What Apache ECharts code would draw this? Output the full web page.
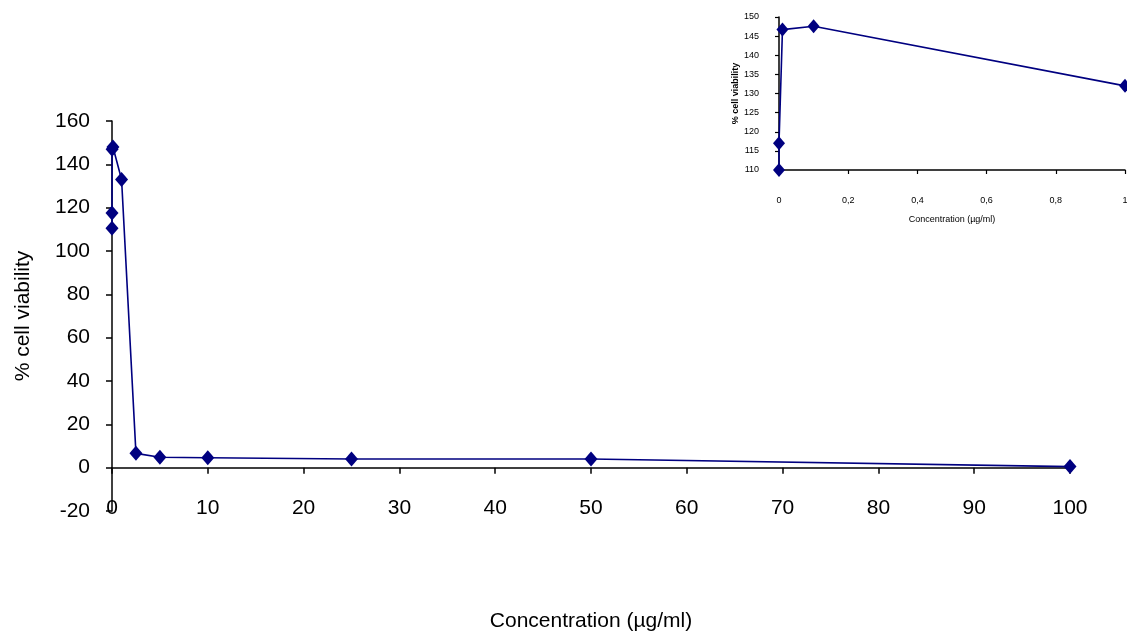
<!DOCTYPE html>
<html>
<head>
<meta charset="utf-8">
<script src="https://cdn.jsdelivr.net/npm/echarts@6/dist/echarts.min.js"></script>
<style>
html,body{margin:0;padding:0;background:#fff;}
#chart{width:1127px;height:631px;}
</style>
</head>
<body>
<div id="chart"></div>
<script>
// Main chart data
const concMain = [0, 0, 0.01, 0.1, 1, 2.5, 5, 10, 25, 50, 100];
const viabMain = [110.5, 117.5, 147, 148, 133, 6.6, 4.8, 4.6, 4, 4, 0.5];
// Inset data (zoom 0-1 µg/ml)
const concInset = [0, 0, 0.01, 0.1, 1];
const viabInset = [110, 117, 146.7, 147.6, 132];
// Axis texts
const xName = 'Concentration (µg/ml)';
const yName = '% cell viability';

const FONT = "'Liberation Sans', Arial, sans-serif";
const NAVY = '#000080';

const chart = echarts.init(document.getElementById('chart'), null, {renderer: 'canvas'});
chart.setOption({
  backgroundColor: '#ffffff',
  animation: false,
  grid: [
    {left: 112, right: 57, top: 121, bottom: 120, containLabel: false, outerBoundsMode: 'none'},
    {left: 779, right: 2, top: 17, bottom: 461, containLabel: false, outerBoundsMode: 'none'}
  ],
  xAxis: [
    {
      gridIndex: 0, type: 'value', min: 0, max: 100, interval: 10,
      axisLine: {onZero: true, lineStyle: {color: '#000', width: 1.5}},
      axisTick: {show: true, inside: false, length: 6, lineStyle: {color: '#000', width: 1.5}},
      axisLabel: {margin: -13, color: '#000', fontSize: 21, fontFamily: FONT},
      splitLine: {show: false},
      name: xName, nameLocation: 'middle', nameGap: 100,
      nameTextStyle: {color: '#000', fontSize: 21, fontFamily: FONT}
    },
    {
      gridIndex: 1, type: 'value', min: 0, max: 1, interval: 0.2,
      axisLine: {onZero: false, lineStyle: {color: '#000', width: 1.5}},
      axisTick: {show: true, length: 4, lineStyle: {color: '#000', width: 1.2}},
      axisLabel: {margin: 26, color: '#000', fontSize: 9, fontFamily: FONT,
        formatter: v => String(Math.round(v * 10) / 10).replace('.', ',')},
      splitLine: {show: false},
      name: xName, nameLocation: 'middle', nameGap: 45,
      nameTextStyle: {color: '#000', fontSize: 9, fontFamily: FONT}
    }
  ],
  yAxis: [
    {
      gridIndex: 0, type: 'value', min: -20, max: 160, interval: 20,
      axisLine: {show: true, onZero: false, lineStyle: {color: '#000', width: 1.5}},
      axisTick: {show: true, length: 6, lineStyle: {color: '#000', width: 1.5}},
      axisLabel: {margin: 22, color: '#000', fontSize: 21, fontFamily: FONT},
      splitLine: {show: false},
      name: yName, nameLocation: 'middle', nameGap: 78,
      nameTextStyle: {color: '#000', fontSize: 21, fontFamily: FONT}
    },
    {
      gridIndex: 1, type: 'value', min: 110, max: 150, interval: 5,
      axisLine: {show: true, onZero: false, lineStyle: {color: '#000', width: 1.5}},
      axisTick: {show: true, length: 4, lineStyle: {color: '#000', width: 1.2}},
      axisLabel: {margin: 20, color: '#000', fontSize: 9, fontFamily: FONT},
      splitLine: {show: false},
      name: yName, nameLocation: 'middle', nameGap: 38,
      nameTextStyle: {color: '#000', fontSize: 9, fontWeight: 'bold', fontFamily: FONT}
    }
  ],
  series: [
    {
      type: 'line', xAxisIndex: 0, yAxisIndex: 0,
      data: concMain.map((c, i) => [c, viabMain[i]]),
      symbol: 'diamond', symbolSize: [13, 15], clip: false,
      lineStyle: {color: NAVY, width: 1.6},
      itemStyle: {color: NAVY, borderWidth: 0}
    },
    {
      type: 'line', xAxisIndex: 1, yAxisIndex: 1,
      data: concInset.map((c, i) => [c, viabInset[i]]),
      symbol: 'diamond', symbolSize: [12, 14], clip: false,
      lineStyle: {color: NAVY, width: 1.6},
      itemStyle: {color: NAVY, borderWidth: 0}
    }
  ]
});
</script>
</body>
</html>
